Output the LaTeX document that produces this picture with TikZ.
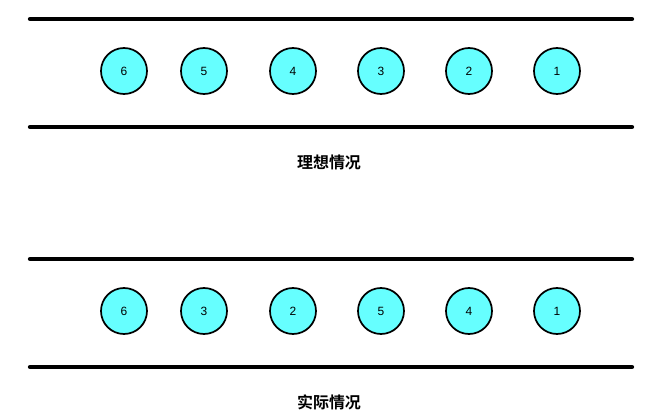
\documentclass[tikz,border=0pt]{standalone}
\usepackage{fontspec}
\newfontfamily\cjk{Noto Sans CJK SC}[BoldFont={* Bold}]
\setsansfont{Liberation Sans}
\definecolor{ball}{HTML}{66FFFF}
\begin{document}
\begin{tikzpicture}[x=0.0264cm,y=-0.0264cm,
  rail/.style={line width=3.2pt,line cap=round},
  ball/.style={circle,draw,line width=1.3pt,fill=ball,minimum size=46*0.0264cm,inner sep=0pt,font=\sffamily\small},
  lbl/.style={font=\cjk\bfseries\large}]
\useasboundingbox (0,0) rectangle (658,417);
\coordinate (a1) at (30,19); \coordinate (a2) at (632,19);
\coordinate (b1) at (30,127); \coordinate (b2) at (632,127);
\draw[rail] (a1) -- (a2); \draw[rail] (b1) -- (b2);
\foreach \n/\x [count=\i] in {6/124,5/204,4/293,3/381,2/469,1/557}
  \node[ball] (t\i) at (\x,71) {\n};
\node[lbl] (l1) at (329,162) {理想情况};
\coordinate (c1) at (30,259); \coordinate (c2) at (632,259);
\coordinate (d1) at (30,367); \coordinate (d2) at (632,367);
\draw[rail] (c1) -- (c2); \draw[rail] (d1) -- (d2);
\foreach \n/\x [count=\i] in {6/124,3/204,2/293,5/381,4/469,1/557}
  \node[ball] (u\i) at (\x,311) {\n};
\node[lbl] (l2) at (329,402) {实际情况};
\end{tikzpicture}
\end{document}
